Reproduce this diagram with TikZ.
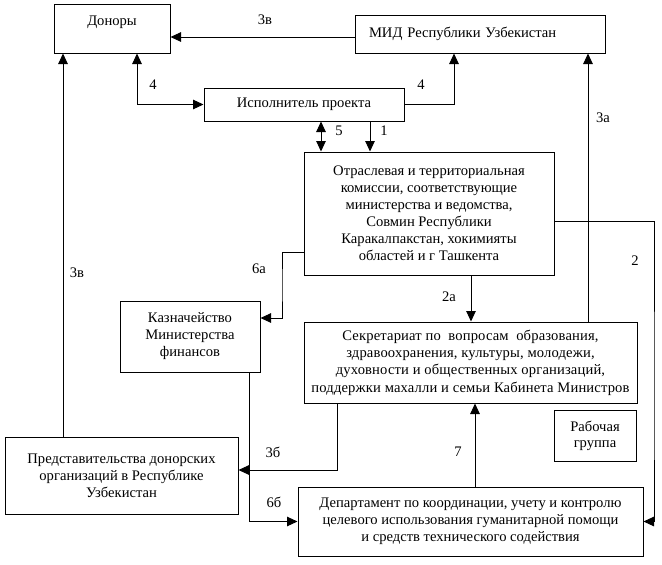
\documentclass[tikz,border=0pt]{standalone}
\usepackage{fontspec}
\setmainfont{Liberation Serif}
\usetikzlibrary{arrows.meta}
\begin{document}
\begin{tikzpicture}[x=1pt,y=-1pt,
  box/.style={draw,line width=1pt,inner sep=0pt,align=center,font=\fontsize{14.6}{17}\selectfont},
  arr/.style={line width=1pt,-{Triangle[length=10.5pt,width=9.5pt]}},
  arrb/.style={line width=1pt,{Triangle[length=10.5pt,width=9.5pt]}-{Triangle[length=10.5pt,width=9.5pt]}},
  lab/.style={font=\fontsize{14.6}{16}\selectfont,inner sep=0pt}]
\useasboundingbox (0,0) rectangle (662,565);
\fill[white] (0,0) rectangle (662,565);
% boxes
\node[box,minimum width=116pt,text height=21pt,text depth=28pt] (don) at (112,28.5) {Доноры};
\node[box,minimum width=250pt,minimum height=38pt,text width=222pt,align=left,inner xsep=14pt] (mid) at (480,34) {МИД Республики Узбекистан};
\node[box,minimum width=200pt,minimum height=33pt] (exe) at (304,104.5) {Исполнитель проекта};
\node[box,minimum width=250pt,minimum height=123pt] (otr) at (429,213.5) {Отраслевая и территориальная\\комиссии, соответствующие\\министерства и ведомства,\\Совмин Республики\\Каракалпакстан, хокимияты\\областей и г Ташкента};
\node[box,minimum width=140pt,minimum height=71pt] (kaz) at (190,336.5) {Казначейство\\Министерства\\финансов};
\node[box,minimum width=333pt,minimum height=81pt,font=\fontsize{14.6}{17.3}\selectfont\addfontfeature{LetterSpace=1}] (sec) at (470.5,362.5) {Секретариат по\ \ вопросам\ \ образования,\\здравоохранения, культуры,\ молодежи,\\духовности и общественных организаций,\\поддержки махалли и семьи Кабинета Министров};
\node[box,minimum width=82pt,minimum height=51pt,font=\fontsize{14.6}{16}\selectfont] (rab) at (595,435.5) {Рабочая\\группа};
\node[box,minimum width=233pt,minimum height=77pt] (pre) at (121.5,475.5) {Представительства донорских\\организаций в Республике\\Узбекистан};
\node[box,minimum width=345pt,minimum height=69pt] (dep) at (470.5,521.5) {Департамент по координации, учету и контролю\\целевого использования гуманитарной помощи\\и средств технического содействия};
% connectors
\draw[arr] (mid.west |- 0,37) -- (don.east |- 0,37);
\draw[arrb] (exe.west) -| ([xshift=25pt]don.south);
\draw[arr] (exe.east) -| ([xshift=-26pt]mid.south);
\draw[arrb] (exe.south -| 321,0) -- (otr.north -| 321,0);
\draw[arr] (exe.south -| 370,0) -- (otr.north -| 370,0);
\draw[arr] (sec.north -| 588,0) -- (mid.south -| 588,0);
\draw[arr] (otr.east |- 0,221) -| (654,400) |- (dep.east);
\draw[arr] (otr.south -| 471,0) -- (sec.north -| 471,0);
\draw[arr] (otr.west |- 0,252) -| (282,285) |- (kaz.east |- 0,318);
\draw[arr] (kaz.south -| 249,0) |- (dep.west);
\draw[arr] (sec.south -| 337,0) |- (pre.east |- 0,470);
\draw[arr] (pre.north -| 63,0) -- (don.south -| 63,0);
\draw[arr] (dep.north -| 475,0) -- (sec.south -| 475,0);
% labels
\node[lab] (l1) at (265,20) {3в};
\node[lab] (l2) at (153,85) {4};
\node[lab] (l3) at (421,85) {4};
\node[lab] (l4) at (339,131) {5};
\node[lab] (l5) at (384,131) {1};
\node[lab] (l6) at (603,118) {3а};
\node[lab] (l7) at (635,261) {2};
\node[lab] (l8) at (449,297) {2а};
\node[lab] (l9) at (259,269) {6а};
\node[lab] (l10) at (77,273) {3в};
\node[lab] (l11) at (273,452) {3б};
\node[lab] (l12) at (274,502) {6б};
\node[lab] (l13) at (458,452) {7};
\end{tikzpicture}
\end{document}
